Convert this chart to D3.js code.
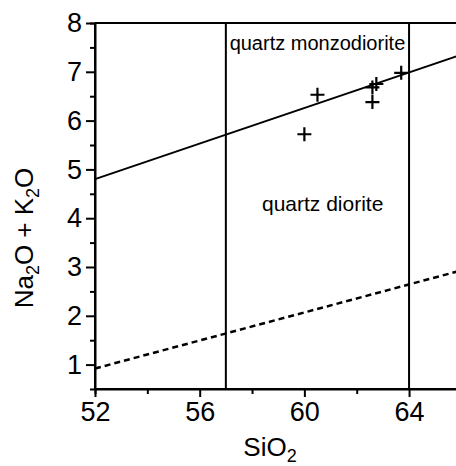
<!DOCTYPE html>
<html>
<head>
<meta charset="utf-8">
<script src="https://cdn.jsdelivr.net/npm/d3@7"></script>
<style>
  body { margin: 0; background: #fff; }
  text { font-family: "Liberation Sans", Arial, sans-serif; fill: #000; }
</style>
</head>
<body>
<script>
var W = 456, H = 466;

// samples (SiO2, Na2O + K2O)
var sio2 = [60.0, 60.5, 62.6, 62.75, 62.6, 63.7];
var alk  = [5.72, 6.53, 6.68, 6.75, 6.38, 6.98];

// boundary lines
var solidLine  = [[52, 4.8], [66, 7.35]];
var dashedLine = [[52, 0.92], [66, 2.93]];
var vertLines = [57, 64];

var xTicks = [52, 56, 60, 64];
var xMinor = [54, 58, 62];
var yTicks = [1, 2, 3, 4, 5, 6, 7, 8];
var yMinor = [1.5, 2.5, 3.5, 4.5, 5.5, 6.5, 7.5];

var fields = [
  { name: 'quartz monzodiorite', x: 60.5, y: 7.45, size: 20 },
  { name: 'quartz diorite', x: 60.7, y: 4.15, size: 21 }
];

var svg = d3.select('body').append('svg')
  .attr('width', W).attr('height', H);

var x = d3.scaleLinear().domain([52, 66]).range([95, 461.4]);
var y = d3.scaleLinear().domain([0.5, 8]).range([389, 23]);

// frame
svg.append('line')
  .attr('x1', x(52)).attr('x2', W + 5)
  .attr('y1', y(8)).attr('y2', y(8))
  .attr('stroke', '#000').attr('stroke-width', 2);

var xAxis = svg.append('g')
  .attr('transform', 'translate(0,' + y(0.5) + ')')
  .call(d3.axisBottom(x).tickValues(xTicks).tickSize(8).tickPadding(5).tickFormat(d3.format('d')));
svg.append('g')
  .attr('transform', 'translate(0,' + y(0.5) + ')')
  .call(d3.axisBottom(x).tickValues(xMinor).tickSize(5).tickFormat(''));

var yAxis = svg.append('g')
  .attr('transform', 'translate(' + x(52) + ',0)')
  .call(d3.axisLeft(y).tickValues(yTicks).tickSize(9).tickPadding(4).tickFormat(d3.format('d')));
svg.append('g')
  .attr('transform', 'translate(' + x(52) + ',0)')
  .call(d3.axisLeft(y).tickValues(yMinor).tickSize(5).tickFormat(''));

svg.selectAll('.domain').attr('stroke-width', 2);
svg.selectAll('.tick line').attr('stroke-width', 2);
svg.selectAll('.tick text')
  .style('font-family', '"Liberation Sans", Arial, sans-serif')
  .style('font-size', '27px').attr('fill', '#000');
svg.selectAll('.domain').each(function() {
  // extend the bottom axis to the edge, no end caps
});
xAxis.select('.domain').attr('d', 'M' + x(52) + ',0H' + (W + 5));
yAxis.select('.domain').attr('d', 'M0,' + y(0.5) + 'V' + y(8));

// vertical field boundaries
svg.selectAll('.vline').data(vertLines).enter().append('line')
  .attr('x1', function(d) { return x(d); }).attr('x2', function(d) { return x(d); })
  .attr('y1', y(0.5)).attr('y2', y(8))
  .attr('stroke', '#000').attr('stroke-width', 2);

var line = d3.line().x(function(d) { return x(d[0]); }).y(function(d) { return y(d[1]); });

svg.append('path').attr('d', line(solidLine))
  .attr('fill', 'none').attr('stroke', '#000').attr('stroke-width', 2);
svg.append('path').attr('d', line(dashedLine))
  .attr('fill', 'none').attr('stroke', '#000').attr('stroke-width', 2.5)
  .attr('stroke-dasharray', '6,4');

// field names
svg.selectAll('.field').data(fields).enter().append('text')
  .attr('x', function(d) { return x(d.x); })
  .attr('y', function(d) { return y(d.y); })
  .attr('text-anchor', 'middle')
  .style('font-size', function(d) { return d.size + 'px'; })
  .text(function(d) { return d.name; });

// samples
var pts = sio2.map(function(s, i) { return [s, alk[i]]; });
svg.selectAll('.pt').data(pts).enter().append('path')
  .attr('transform', function(d) { return 'translate(' + x(d[0]) + ',' + y(d[1]) + ')'; })
  .attr('d', 'M-7,0H7M0,-7V7')
  .attr('stroke', '#000').attr('stroke-width', 2.2).attr('fill', 'none');

// axis titles
var xt = svg.append('text')
  .attr('x', 270).attr('y', 456)
  .attr('text-anchor', 'middle')
  .style('font-size', '26px');
xt.append('tspan').text('SiO');
xt.append('tspan').attr('dy', 6).style('font-size', '18px').text('2');

var yt = svg.append('text')
  .attr('transform', 'translate(33,' + 238 + ') rotate(-90)')
  .attr('text-anchor', 'middle')
  .style('font-size', '26px');
yt.append('tspan').text('Na');
yt.append('tspan').attr('dy', 6).style('font-size', '18px').text('2');
yt.append('tspan').attr('dy', -6).text('O + K');
yt.append('tspan').attr('dy', 6).style('font-size', '18px').text('2');
yt.append('tspan').attr('dy', -6).text('O');
</script>
</body>
</html>
